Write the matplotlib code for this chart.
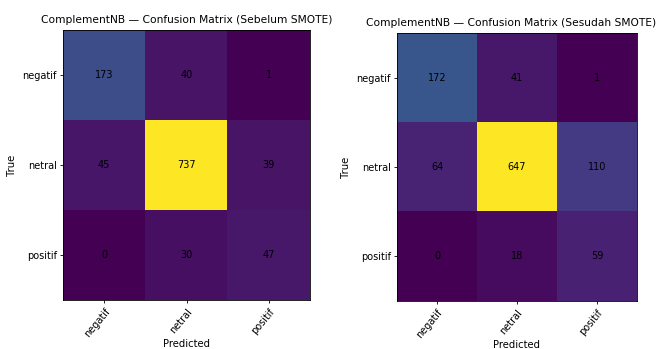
import numpy as np
import matplotlib
matplotlib.use("Agg")
import matplotlib.pyplot as plt

labels = ["negatif", "netral", "positif"]
cm_before = np.array([[173, 40, 1],
                      [45, 737, 39],
                      [0, 30, 47]])
cm_after = np.array([[172, 41, 1],
                     [64, 647, 110],
                     [0, 18, 59]])
titles = ["ComplementNB — Confusion Matrix (Sebelum SMOTE)",
          "ComplementNB — Confusion Matrix (Sesudah SMOTE)"]
title_x = [0.5, 0.475]

fig = plt.figure(figsize=(6.6, 3.49), dpi=100)
W, H = 660, 349
boxes = [(63, 30, 247, 270), (397, 33, 240, 268)]

for (x0, y0, w, h), cm, title, tx in zip(boxes, [cm_before, cm_after], titles, title_x):
    ax = fig.add_axes([x0 / W, 1 - (y0 + h) / H, w / W, h / H])
    ax.imshow(cm, cmap="viridis", aspect="auto", interpolation="nearest")
    for i in range(cm.shape[0]):
        for j in range(cm.shape[1]):
            ax.text(j, i, str(cm[i, j]), ha="center", va="center",
                    color="black", fontsize=7)
    ax.set_xticks(range(len(labels)))
    ax.set_yticks(range(len(labels)))
    ax.set_xticklabels(labels, rotation=50, ha="right", rotation_mode="anchor",
                       fontsize=7)
    ax.set_yticklabels(labels, fontsize=7)
    ax.tick_params(length=2.5, width=0.6, pad=2)
    for s in ax.spines.values():
        s.set_linewidth(0.6)
    ax.set_title(title, fontsize=7.7, pad=5, x=tx)
    ax.set_xlabel("Predicted", fontsize=7.2, labelpad=0)
    ax.set_ylabel("True", fontsize=7.3, labelpad=4)

fig.savefig("out.png", dpi=100)
